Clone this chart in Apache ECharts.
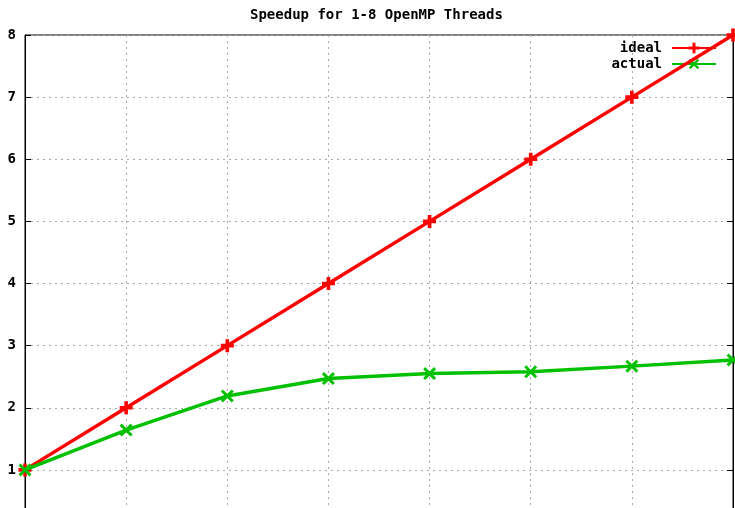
<!DOCTYPE html>
<html><head><meta charset="utf-8">
<script src="https://cdn.jsdelivr.net/npm/echarts@6/dist/echarts.min.js"></script>
<style>html,body{margin:0;padding:0;background:#fff;overflow:hidden}#c{width:735px;height:532px}</style>
</head><body><div id="c"></div>
<script>
const threads = [1, 2, 3, 4, 5, 6, 7, 8];
const ideal = [1, 2, 3, 4, 5, 6, 7, 8];
const actual = [1, 1.64, 2.19, 2.47, 2.55, 2.58, 2.67, 2.77];
const yTicks = [1, 2, 3, 4, 5, 6, 7, 8];
const title = 'Speedup for 1-8 OpenMP Threads';

const FONT = '"DejaVu Sans Mono", monospace';
const plus = 'path://M3.6,0H6.4V3.6H10V6.4H6.4V10H3.6V6.4H0V3.6H3.6Z';
const cross = 'path://M1.6,0L5,3.4L8.4,0L10,1.6L6.6,5L10,8.4L8.4,10L5,6.6L1.6,10L0,8.4L3.4,5L0,1.6Z';

const chart = echarts.init(document.getElementById('c'));
chart.setOption({
  animation: false,
  backgroundColor: '#fff',
  title: {text: title, left: 245, top: 3,
    textStyle: {fontFamily: FONT, fontWeight: 'bold', fontSize: 14, color: '#000'}},
  legend: {
    orient: 'vertical', right: 13, top: 36, align: 'right', itemGap: 2,
    itemWidth: 44, itemHeight: 13,
    textStyle: {fontFamily: FONT, fontWeight: 'bold', fontSize: 14, color: '#000', padding: [0, 5, 0, 0]},
    data: ['ideal', 'actual']
  },
  grid: {left: 25, right: 2, top: 35, bottom: 0, show: true, borderColor: '#000', borderWidth: 1},
  xAxis: [{
    type: 'value', min: 1, max: 8, interval: 1,
    axisLine: {show: true, lineStyle: {color: '#000'}},
    axisTick: {inside: true, length: 6, lineStyle: {color: '#000'}},
    axisLabel: {show: false},
    splitLine: {show: true, lineStyle: {color: '#a8a8a8', type: [2, 4], width: 1}}
  }, {
    type: 'value', min: 1, max: 8, interval: 1, position: 'top', z: 5,
    axisLine: {show: true, lineStyle: {color: '#000', width: 1.5}},
    axisTick: {inside: true, length: 6, lineStyle: {color: '#000'}},
    axisLabel: {show: false}, splitLine: {show: false}
  }],
  yAxis: [{
    type: 'value', min: 0, max: 8, interval: 1,
    axisLine: {show: true, lineStyle: {color: '#000'}},
    axisTick: {inside: true, length: 6, lineStyle: {color: '#000'}},
    axisLabel: {fontFamily: FONT, fontWeight: 'bold', fontSize: 14, color: '#000', margin: 9,
      formatter: v => yTicks.includes(v) ? String(v) : ''},
    splitLine: {show: true, lineStyle: {color: '#a8a8a8', type: [2, 4], width: 1}}
  }, {
    type: 'value', min: 0, max: 8, interval: 1, position: 'right', z: 5,
    axisLine: {show: true, lineStyle: {color: '#000'}},
    axisTick: {inside: true, length: 6, lineStyle: {color: '#000'}},
    axisLabel: {show: false}, splitLine: {show: false}
  }],
  series: [{
    name: 'ideal', type: 'line', data: threads.map((t, i) => [t, ideal[i]]),
    color: '#ff0000', lineStyle: {width: 3.5, color: '#ff0000'},
    symbol: plus, symbolSize: 13, showAllSymbol: true,
    itemStyle: {color: '#ff0000'}, clip: false, z: 6
  }, {
    name: 'actual', type: 'line', data: threads.map((t, i) => [t, actual[i]]),
    color: '#00c000', lineStyle: {width: 3.5, color: '#00c000'},
    symbol: cross, symbolSize: 13, showAllSymbol: true,
    itemStyle: {color: '#00c000'}, clip: false, z: 7
  }]
});
</script></body></html>
